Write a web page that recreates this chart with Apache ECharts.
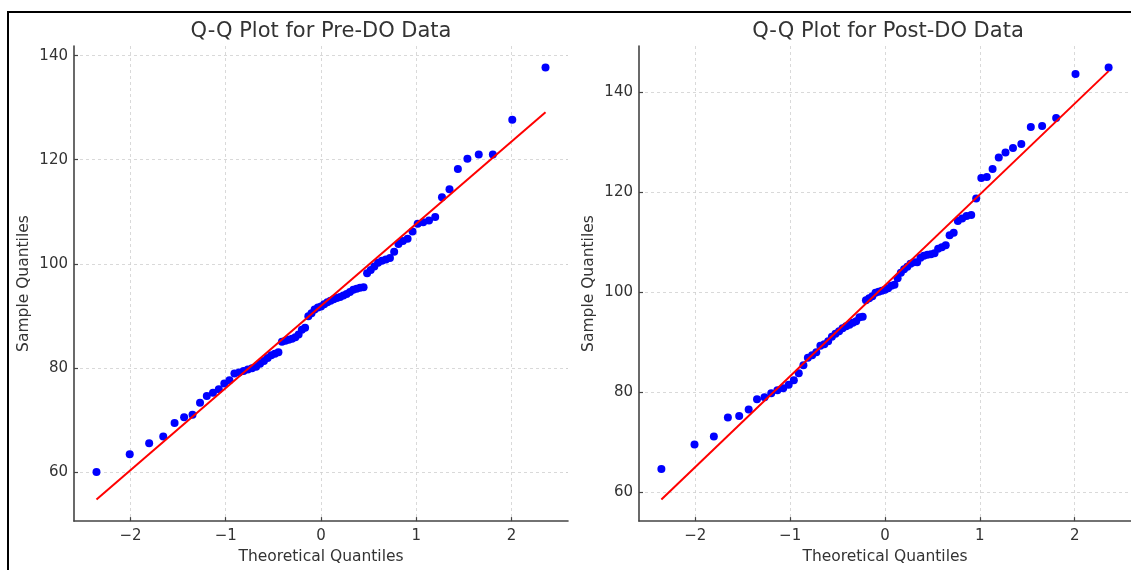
<!DOCTYPE html>
<html>
<head>
<meta charset="utf-8">
<title>Q-Q Plots</title>
<script src="https://cdn.jsdelivr.net/npm/echarts@6/dist/echarts.min.js"></script>
<style>
html, body { margin: 0; padding: 0; background: #fff; }
#chart { width: 1131px; height: 570px; }
</style>
</head>
<body>
<div id="chart"></div>
<script>
// theoretical normal quantiles (75 points)
var theoQuantiles = [
    -2.357, -2.008, -1.804, -1.656, -1.537, -1.437, -1.349, -1.270, -1.199, -1.134,
    -1.073, -1.015, -0.961, -0.909, -0.860, -0.813, -0.768, -0.724, -0.681, -0.640,
    -0.599, -0.560, -0.522, -0.484, -0.447, -0.410, -0.374, -0.339, -0.304, -0.269,
    -0.235, -0.201, -0.167, -0.133, -0.100, -0.067, -0.033, 0,
    0.033, 0.067, 0.100, 0.133, 0.167, 0.201, 0.235, 0.269, 0.304, 0.339,
    0.374, 0.410, 0.447, 0.484, 0.522, 0.560, 0.599, 0.640, 0.681, 0.724,
    0.768, 0.813, 0.860, 0.909, 0.961, 1.015, 1.073, 1.134, 1.199, 1.270,
    1.349, 1.437, 1.537, 1.656, 1.804, 2.008, 2.357
];
var preSample = [
    60.0, 63.4, 65.5, 66.8, 69.4, 70.5, 71.0, 73.3, 74.6, 75.2,
    75.9, 77.0, 77.6, 78.9, 79.1, 79.4, 79.7, 79.9, 80.2, 80.8,
    81.3, 81.9, 82.4, 82.7, 83.0, 85.0, 85.2, 85.4, 85.6, 85.9,
    86.4, 87.3, 87.7, 89.9, 90.5, 91.2, 91.6, 91.8,
    92.2, 92.6, 92.9, 93.2, 93.4, 93.6, 93.9, 94.2, 94.6, 95.0,
    95.2, 95.4, 95.5, 98.2, 98.8, 99.5, 100.2, 100.6, 100.8, 101.1,
    102.3, 103.8, 104.4, 104.8, 106.2, 107.7, 108.0, 108.3, 109.0, 112.8,
    114.3, 118.2, 120.2, 121.0, 121.0, 127.7, 137.7
];
var postSample = [
    64.6, 69.5, 71.1, 74.9, 75.2, 76.5, 78.6, 79.0, 79.8, 80.4,
    80.8, 81.5, 82.4, 83.8, 85.4, 86.9, 87.4, 88.0, 89.3, 89.6,
    90.2, 91.1, 91.7, 92.2, 92.8, 93.2, 93.5, 93.9, 94.2, 95.0,
    95.1, 98.4, 98.8, 99.2, 99.9, 100.1, 100.3, 100.5,
    100.8, 101.3, 101.5, 102.8, 103.9, 104.6, 105.1, 105.7, 106.0, 106.0,
    106.9, 107.3, 107.5, 107.6, 107.8, 108.7, 109.0, 109.4, 111.4, 111.9,
    114.3, 114.8, 115.3, 115.5, 118.8, 122.9, 123.1, 124.7, 127.0, 128.0,
    128.9, 129.7, 133.1, 133.3, 134.9, 143.7, 145.0
];
// reference line end points
var lineX = [-2.357, 2.357];
var preLine = [54.7, 129.1];
var postLine = [58.5, 144.3];

var titles = ['Q-Q Plot for Pre-DO Data', 'Q-Q Plot for Post-DO Data'];
var xName = 'Theoretical Quantiles';
var yName = 'Sample Quantiles';

var FONT = 'DejaVu Sans';
var TXT = '#333';
var SPINE = '#444';

function pairs(xs, ys) {
    var out = [];
    for (var i = 0; i < xs.length; i++) out.push([xs[i], ys[i]]);
    return out;
}

function minusSign(v) {
    return String(v).replace('-', '\u2212');
}

function xAxisOpt(idx) {
    return {
        type: 'value',
        gridIndex: idx,
        min: -2.593,
        max: 2.593,
        name: xName,
        nameLocation: 'middle',
        nameGap: 24,
        nameTextStyle: { fontFamily: FONT, fontSize: 15.5, color: TXT },
        axisLine: { show: true, onZero: false, lineStyle: { color: SPINE, width: 1.6 } },
        axisTick: { show: true, inside: true, length: 4, lineStyle: { color: SPINE, width: 1.2 } },
        axisLabel: {
            fontFamily: FONT, fontSize: 15, color: TXT, margin: 8,
            showMinLabel: false, showMaxLabel: false,
            formatter: minusSign
        },
        splitLine: {
            show: true, showMinLine: false, showMaxLine: false,
            lineStyle: { color: '#d0d0d0', type: [3, 3], width: 0.8 }
        }
    };
}

function yAxisOpt(idx, lo, hi) {
    return {
        type: 'value',
        gridIndex: idx,
        min: lo,
        max: hi,
        name: yName,
        nameLocation: 'middle',
        nameGap: 42,
        nameTextStyle: { fontFamily: FONT, fontSize: 15.5, color: TXT },
        axisLine: { show: true, onZero: false, lineStyle: { color: SPINE, width: 1.6 } },
        axisTick: { show: true, inside: true, length: 4, lineStyle: { color: SPINE, width: 1.2 } },
        axisLabel: {
            fontFamily: FONT, fontSize: 15, color: TXT, margin: 6,
            showMinLabel: false, showMaxLabel: false
        },
        splitLine: {
            show: true, showMinLine: false, showMaxLine: false,
            lineStyle: { color: '#d0d0d0', type: [3, 3], width: 0.8 }
        }
    };
}

var chart = echarts.init(document.getElementById('chart'));
var option = {
    animation: false,
    backgroundColor: '#fff',
    title: [
        { text: titles[0], left: 321, top: 21, textAlign: 'center', padding: 0,
          textStyle: { fontFamily: FONT, fontSize: 21, fontWeight: 'normal', color: TXT } },
        { text: titles[1], left: 888, top: 21, textAlign: 'center', padding: 0,
          textStyle: { fontFamily: FONT, fontSize: 21, fontWeight: 'normal', color: TXT } }
    ],
    graphic: [{
        type: 'rect',
        shape: { x: 8, y: 12, width: 1200, height: 700 },
        style: { fill: 'none', stroke: '#000', lineWidth: 2 },
        silent: true
    }],
    grid: [
        { left: 74, top: 46, width: 494, height: 479 },
        { left: 639, top: 46, width: 498, height: 479 }
    ],
    xAxis: [xAxisOpt(0), xAxisOpt(1)],
    yAxis: [yAxisOpt(0, 50.55, 141.85), yAxisOpt(1, 54.17, 149.33)],
    series: [
        {
            type: 'scatter', xAxisIndex: 0, yAxisIndex: 0,
            data: pairs(theoQuantiles, preSample),
            symbolSize: 8, itemStyle: { color: '#0000ff', opacity: 1 }, z: 2
        },
        {
            type: 'line', xAxisIndex: 0, yAxisIndex: 0,
            data: pairs(lineX, preLine),
            showSymbol: false, lineStyle: { color: '#ff0000', width: 2 }, z: 3
        },
        {
            type: 'scatter', xAxisIndex: 1, yAxisIndex: 1,
            data: pairs(theoQuantiles, postSample),
            symbolSize: 8, itemStyle: { color: '#0000ff', opacity: 1 }, z: 2
        },
        {
            type: 'line', xAxisIndex: 1, yAxisIndex: 1,
            data: pairs(lineX, postLine),
            showSymbol: false, lineStyle: { color: '#ff0000', width: 2 }, z: 3
        }
    ]
};
chart.setOption(option);
</script>
</body>
</html>
